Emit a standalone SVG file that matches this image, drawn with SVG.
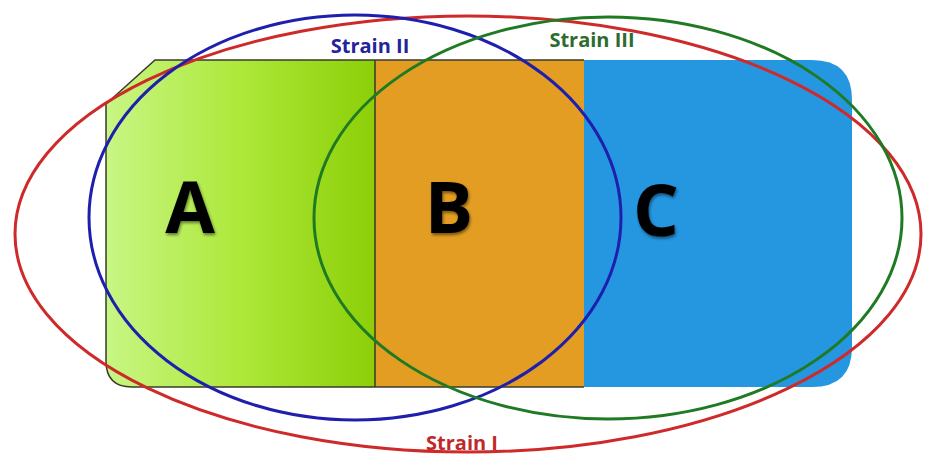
<svg xmlns="http://www.w3.org/2000/svg" width="925" height="457" viewBox="0 0 925 457">
<defs>
<linearGradient id="gA" x1="106" y1="0" x2="375" y2="0" gradientUnits="userSpaceOnUse">
<stop offset="0" stop-color="#c8f684"/>
<stop offset="0.5" stop-color="#ade83a"/>
<stop offset="1" stop-color="#8ccf08"/>
</linearGradient>
<filter id="sh" x="-20%" y="-20%" width="140%" height="140%">
<feGaussianBlur in="SourceAlpha" stdDeviation="1.5"/>
<feOffset dx="1" dy="2" result="b"/>
<feComponentTransfer><feFuncA type="linear" slope="0.5"/></feComponentTransfer>
<feMerge><feMergeNode/><feMergeNode in="SourceGraphic"/></feMerge>
</filter>
</defs>
<style>
.big{font-family:"Open Sans","Liberation Sans",sans-serif;font-weight:bold;font-size:72px;fill:#000;text-anchor:middle}
.lbl{font-family:"Open Sans","Liberation Sans",sans-serif;font-weight:bold;font-size:20px;text-anchor:middle}
.ell{fill:none;stroke-width:3}
.edge{fill:none;stroke:#3a3a2a;stroke-width:1.5}
</style>
<rect width="925" height="457" fill="#fff"/>
<g id="regionA">
<path d="M155,60 L375,60 L375,387 L132,387 Q106,387 106,361 L106,104 Z" fill="url(#gA)"/>
<text class="big" x="190" y="233" filter="url(#sh)">A</text>
</g>
<g id="regionB">
<rect x="375" y="60" width="209" height="327" fill="#e29d22"/>
<text class="big" x="449" y="233" filter="url(#sh)">B</text>
</g>
<g id="regionC">
<path d="M584,60 L812,60 Q852,60 852,100 L852,347 Q852,387 812,387 L584,387 Z" fill="#2596e0"/>
<text class="big" x="656" y="236" filter="url(#sh)">C</text>
</g>
<g id="outline">
<path class="edge" d="M584,60 L155,60 L106,104 L106,361 Q106,387 132,387 L584,387"/>
<line class="edge" x1="375" y1="60" x2="375" y2="387"/>
</g>
<g id="strainI">
<ellipse class="ell" cx="468" cy="234" rx="453" ry="218" stroke="#cf2a2a"/>
<text class="lbl" x="462" y="450" fill="#c0282a">Strain I</text>
</g>
<g id="strainII">
<ellipse class="ell" cx="355" cy="217.5" rx="266" ry="202.5" stroke="#1f1fae"/>
<text class="lbl" x="370" y="53" fill="#24249a">Strain II</text>
</g>
<g id="strainIII">
<ellipse class="ell" cx="608" cy="218" rx="294" ry="201" stroke="#1f7a24"/>
<text class="lbl" x="592" y="47" fill="#2e6b2e">Strain III</text>
</g>
</svg>
